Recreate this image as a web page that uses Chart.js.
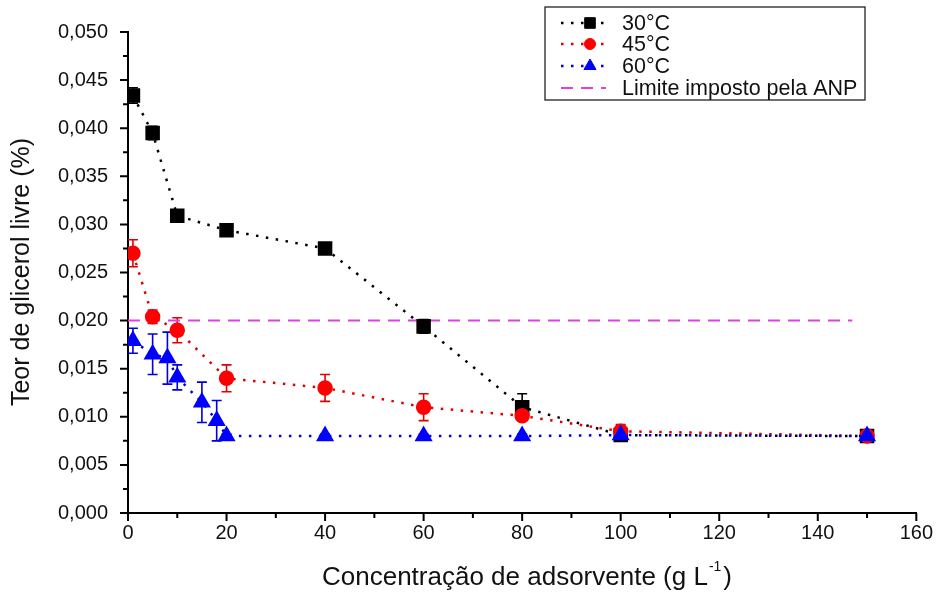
<!DOCTYPE html>
<html>
<head>
<meta charset="utf-8">
<script src="https://cdn.jsdelivr.net/npm/chart.js@4/dist/chart.umd.min.js"></script>
<style>
  html, body { margin: 0; padding: 0; background: #ffffff; }
  #wrap { width: 941px; height: 592px; position: relative; }
</style>
</head>
<body>
<div id="wrap"><canvas id="c"></canvas></div>
<script>
// Adsorbent concentration (g/L) and free glycerol content (%) per temperature
const conc30 = [1, 5, 10, 20, 40, 60, 80, 100, 150];
const glic30 = [0.0434, 0.0395, 0.0309, 0.0294, 0.0275, 0.0194, 0.0110, 0.0081, 0.0080];
const err30  = [0.0008, 0.0007, 0.0003, 0.0006, 0.0006, 0.0007, 0.0014, 0.0003, 0.0002];

const conc45 = [1, 5, 10, 20, 40, 60, 80, 100, 150];
const glic45 = [0.0270, 0.0204, 0.0190, 0.0140, 0.0130, 0.0110, 0.0101, 0.0085, 0.0080];
const err45  = [0.0014, 0.0007, 0.0013, 0.0014, 0.0014, 0.0014, 0.0004, 0.0007, 0.0002];

const conc60 = [1, 5, 8, 10, 15, 18, 20, 40, 60, 80, 100, 150];
const glic60 = [0.0179, 0.0165, 0.0161, 0.0141, 0.0115, 0.0096, 0.0080, 0.0080, 0.0080, 0.0080, 0.0081, 0.0080];
const err60  = [0.0013, 0.0021, 0.0027, 0.0013, 0.0021, 0.0021, 0.0002, 0.0002, 0.0002, 0.0002, 0.0002, 0.0002];

// ANP limit for free glycerol
const limitConc = [0, 147];
const limitValue = [0.020, 0.020];

// Axis ticks
const xMajor = [0, 20, 40, 60, 80, 100, 120, 140, 160];
const xMinor = [10, 30, 50, 70, 90, 110, 130, 150];
const yMajor = [0, 0.005, 0.010, 0.015, 0.020, 0.025, 0.030, 0.035, 0.040, 0.045, 0.050];
const yMinor = [0.0025, 0.0075, 0.0125, 0.0175, 0.0225, 0.0275, 0.0325, 0.0375, 0.0425, 0.0475];

const seriesNames = ['30°C', '45°C', '60°C', 'Limite imposto pela ANP'];
const FONT = "'Liberation Sans', Arial, sans-serif";

const pts = (xs, ys) => xs.map((x, i) => ({ x: x, y: ys[i] }));

const errors = { 0: err30, 1: err45, 2: err60 };

// Error bars drawn under the markers
const errorBars = {
  id: 'errorBars',
  beforeDatasetsDraw(chart) {
    const ctx = chart.ctx;
    const xs = chart.scales.x, ys = chart.scales.y;
    Object.keys(errors).forEach(k => {
      const i = +k;
      const ds = chart.data.datasets[i];
      const errs = errors[k];
      ctx.save();
      ctx.strokeStyle = ds.errorColor;
      ctx.lineWidth = 1.6;
      ds.data.forEach((p, j) => {
        const e = errs[j];
        const px = xs.getPixelForValue(p.x);
        const top = ys.getPixelForValue(p.y + e);
        const bot = ys.getPixelForValue(p.y - e);
        ctx.beginPath();
        ctx.moveTo(px, top); ctx.lineTo(px, bot);
        ctx.moveTo(px - 5, top); ctx.lineTo(px + 5, top);
        ctx.moveTo(px - 5, bot); ctx.lineTo(px + 5, bot);
        ctx.stroke();
      });
      ctx.restore();
    });
  }
};

// Outward tick marks, axis titles and the boxed legend
const decorations = {
  id: 'decorations',
  afterDraw(chart) {
    const ctx = chart.ctx;
    const xs = chart.scales.x, ys = chart.scales.y;
    const area = chart.chartArea;
    ctx.save();
    ctx.strokeStyle = '#000';
    ctx.lineWidth = 2;
    ctx.beginPath();
    xMajor.forEach(v => { const px = xs.getPixelForValue(v); ctx.moveTo(px, area.bottom); ctx.lineTo(px, area.bottom + 8); });
    xMinor.forEach(v => { const px = xs.getPixelForValue(v); ctx.moveTo(px, area.bottom); ctx.lineTo(px, area.bottom + 5); });
    yMajor.forEach(v => { const py = ys.getPixelForValue(v); ctx.moveTo(area.left, py); ctx.lineTo(area.left - 8, py); });
    yMinor.forEach(v => { const py = ys.getPixelForValue(v); ctx.moveTo(area.left, py); ctx.lineTo(area.left - 5, py); });
    ctx.stroke();

    // Axis titles
    ctx.fillStyle = '#111';
    ctx.textBaseline = 'middle';
    const XS = 26;
    ctx.font = XS + 'px ' + FONT;
    const main = 'Concentração de adsorvente (g L';
    const sup = '-1';
    const close = ')';
    const wMain = ctx.measureText(main).width;
    const wClose = ctx.measureText(close).width;
    ctx.font = '14px ' + FONT;
    const wSup = ctx.measureText(sup).width;
    const total = wMain + wSup + wClose + 3;
    let tx = 527 - total / 2;
    const ty = 578;
    ctx.font = XS + 'px ' + FONT;
    ctx.textAlign = 'left';
    ctx.fillText(main, tx, ty);
    ctx.font = '14px ' + FONT;
    ctx.fillText(sup, tx + wMain + 1, ty - 11);
    ctx.font = XS + 'px ' + FONT;
    ctx.fillText(close, tx + wMain + wSup + 3, ty);

    ctx.save();
    ctx.font = '25px ' + FONT;
    ctx.translate(22, 272);
    ctx.rotate(-Math.PI / 2);
    ctx.textAlign = 'center';
    ctx.fillText('Teor de glicerol livre (%)', 0, 0);
    ctx.restore();

    // Legend box
    const bx = 545, by = 7, bw = 320, bh = 93;
    ctx.fillStyle = '#fff';
    ctx.fillRect(bx, by, bw, bh);
    ctx.strokeStyle = '#222';
    ctx.lineWidth = 1.3;
    ctx.strokeRect(bx, by, bw, bh);
    const rows = [23, 44, 66, 88];
    chart.data.datasets.forEach((ds, i) => {
      const y = rows[i];
      ctx.save();
      ctx.strokeStyle = ds.borderColor;
      ctx.lineWidth = ds.borderWidth;
      ctx.setLineDash(ds.borderDash);
      ctx.beginPath();
      ctx.moveTo(561, y); ctx.lineTo(606, y);
      ctx.stroke();
      ctx.restore();
      if (ds.pointRadius > 0) {
        ctx.fillStyle = ds.pointBackgroundColor;
        ctx.strokeStyle = ds.pointBorderColor;
        ctx.lineWidth = 1;
        Chart.helpers.drawPoint(ctx, {
          pointStyle: ds.pointStyle, radius: ds.pointRadius - 1, borderWidth: 1
        }, 590, y);
      }
      ctx.fillStyle = '#111';
      ctx.font = '21.5px ' + FONT;
      ctx.textAlign = 'left';
      ctx.textBaseline = 'middle';
      ctx.fillText(seriesNames[i], 622, y + 1);
    });
    ctx.restore();
  }
};

const dotted = [2.5, 7.5];

new Chart(document.getElementById('c'), {
  type: 'line',
  data: {
    datasets: [
      {
        label: seriesNames[0], data: pts(conc30, glic30),
        borderColor: '#000000', borderWidth: 2.5, borderDash: dotted,
        pointStyle: 'rect', pointRadius: 8.5, pointBackgroundColor: '#000000', pointBorderColor: '#000000',
        errorColor: '#000000', order: 2
      },
      {
        label: seriesNames[1], data: pts(conc45, glic45),
        borderColor: '#e00000', borderWidth: 2.5, borderDash: dotted,
        pointStyle: 'circle', pointRadius: 6.5, pointBackgroundColor: '#ff0000', pointBorderColor: '#ff0000',
        errorColor: '#e00000', order: 1
      },
      {
        label: seriesNames[2], data: pts(conc60, glic60),
        borderColor: '#0000dd', borderWidth: 2.5, borderDash: dotted,
        pointStyle: 'triangle', pointRadius: 8, pointBackgroundColor: '#0000ff', pointBorderColor: '#0000ff',
        errorColor: '#0000dd', order: 0
      },
      {
        label: seriesNames[3], data: pts(limitConc, limitValue),
        borderColor: '#e040e0', borderWidth: 2, borderDash: [12, 8],
        pointRadius: 0, order: 3
      }
    ]
  },
  options: {
    responsive: true,
    maintainAspectRatio: false,
    animation: false,
    layout: { padding: { top: 28, right: 23, left: 0, bottom: 0 } },
    plugins: { legend: { display: false }, tooltip: { enabled: false } },
    elements: { line: { tension: 0, fill: false }, point: { borderWidth: 1 } },
    scales: {
      x: {
        type: 'linear', min: 0, max: 160,
        grid: { display: false, drawTicks: false },
        border: { display: true, color: '#000', width: 2 },
        ticks: { stepSize: 20, padding: 8, color: '#111', font: { family: FONT, size: 20 } },
        afterFit(scale) { scale.height = 79; }
      },
      y: {
        type: 'linear', min: 0, max: 0.05,
        grid: { display: false, drawTicks: false },
        border: { display: true, color: '#000', width: 2 },
        ticks: {
          stepSize: 0.005, padding: 20, color: '#111', font: { family: FONT, size: 20 },
          callback: v => v.toFixed(3).replace('.', ',')
        },
        afterFit(scale) { scale.width = 128; }
      }
    }
  },
  plugins: [errorBars, decorations]
});
</script>
</body>
</html>
